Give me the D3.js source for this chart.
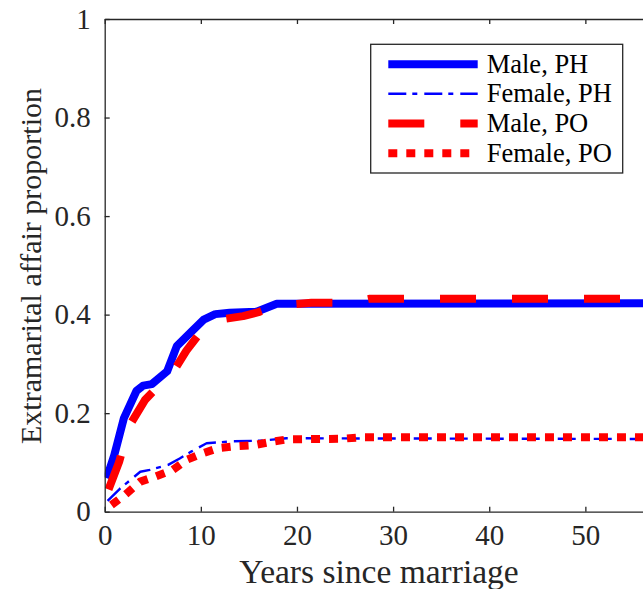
<!DOCTYPE html>
<html>
<head>
<meta charset="utf-8">
<script src="https://cdn.jsdelivr.net/npm/d3@7"></script>
<style>
  body { margin: 0; background: #fff; }
  svg text { font-family: "Liberation Serif", "Times New Roman", serif; }
</style>
</head>
<body>
<div id="chart"></div>
<script>
// years since marriage / proportion
var malePH_t = [0.2, 1, 2, 3.3, 4, 4.9, 6.5, 7.5, 9, 10.3, 11.5, 13, 15.8, 17.9, 60];
var malePH_v = [0.068, 0.115, 0.19, 0.245, 0.256, 0.259, 0.285, 0.336, 0.365, 0.39, 0.401, 0.404, 0.406, 0.422, 0.423];

var femalePH_t = [0.3, 1.6, 3.7, 4.7, 6.6, 7.8, 9, 10.6, 13.4, 16.2, 18.9, 60];
var femalePH_v = [0.022, 0.047, 0.081, 0.085, 0.095, 0.108, 0.122, 0.139, 0.143, 0.144, 0.149, 0.1475];

var malePO_t = [0.4, 1.5, 2.5, 4.2, 5, 6.5, 7, 8.5, 10, 11, 12, 14.4, 16, 18, 21.5, 25.5, 27.5, 60];
var malePO_v = [0.045, 0.101, 0.172, 0.227, 0.243, 0.266, 0.28, 0.327, 0.365, 0.384, 0.39, 0.397, 0.405, 0.419, 0.424, 0.424, 0.432, 0.432];

var femalePO_t = [0.7, 2.1, 3.7, 5.2, 7.1, 8.5, 10.1, 11.8, 13.7, 15.5, 17.4, 19.1, 24.7, 26.6, 60];
var femalePO_v = [0.0136, 0.034, 0.061, 0.071, 0.085, 0.105, 0.118, 0.129, 0.133, 0.135, 0.142, 0.147, 0.148, 0.151, 0.151];

var seriesNames = ["Male, PH", "Female, PH", "Male, PO", "Female, PO"];
// the 60 tick falls past the right edge of the picture
var xTicks = [0, 10, 20, 30, 40, 50];
var yTicks = [0, 0.2, 0.4, 0.6, 0.8, 1];

var W = 643, H = 589,
    margin = {left: 104.7, top: 19, right: 0, bottom: 77.3},
    plotW = 681.5 - margin.left,
    plotH = 511.7 - margin.top,
    axisColor = "#262626";

var styles = [
  {color: "#0000ff", width: 8, dash: null},
  {color: "#0000ff", width: 2.4, dash: "18,6,5,7"},
  {color: "#ff0000", width: 8, dash: "36,36"},
  {color: "#ff0000", width: 8, dash: "9,9"}
];

function zipSeries(ts, vs) {
  return ts.map(function (t, i) { return {t: t, v: vs[i]}; });
}

var series = [
  zipSeries(malePH_t, malePH_v),
  zipSeries(femalePH_t, femalePH_v),
  zipSeries(malePO_t, malePO_v),
  zipSeries(femalePO_t, femalePO_v)
];

var x = d3.scaleLinear().domain([0, 60]).range([0, plotW]);
var y = d3.scaleLinear().domain([0, 1]).range([plotH, 0]);

var svg = d3.select("#chart").append("svg")
    .attr("width", W)
    .attr("height", H);

svg.append("defs").append("clipPath")
    .attr("id", "plotclip")
  .append("rect")
    .attr("width", plotW)
    .attr("height", plotH);

var focus = svg.append("g")
    .attr("transform", "translate(" + margin.left + "," + margin.top + ")");

// lines
var line = d3.line()
    .x(function (d) { return x(d.t); })
    .y(function (d) { return y(d.v); });

focus.append("g")
    .attr("clip-path", "url(#plotclip)")
  .selectAll("path")
    .data(series)
  .enter().append("path")
    .attr("d", line)
    .attr("fill", "none")
    .attr("stroke", function (d, i) { return styles[i].color; })
    .attr("stroke-width", function (d, i) { return styles[i].width; })
    .attr("stroke-dasharray", function (d, i) { return styles[i].dash; })
    .attr("stroke-linejoin", "round")
    .attr("stroke-linecap", "butt");

// axes, ticks inward like matlab
var xAxis = d3.axisBottom(x).tickValues(xTicks).tickSizeInner(-5).tickSizeOuter(0).tickPadding(13)
    .tickFormat(d3.format("d"));
var xAxisTop = d3.axisTop(x).tickValues(xTicks).tickSizeInner(-5).tickSizeOuter(0).tickFormat("");
var yAxis = d3.axisLeft(y).tickValues(yTicks).tickSizeInner(-5).tickSizeOuter(0).tickPadding(14)
    .tickFormat(function (d) { return d === 0 || d === 1 ? d : d3.format(".1f")(d); });

var gx = focus.append("g")
    .attr("transform", "translate(0," + plotH + ")")
    .call(xAxis);
var gxt = focus.append("g").call(xAxisTop);
var gy = focus.append("g").call(yAxis);

[gx, gxt, gy].forEach(function (g) {
  g.select(".domain").attr("stroke", axisColor).attr("stroke-width", 1.3);
  g.selectAll(".tick line").attr("stroke", axisColor).attr("stroke-width", 1.3);
  g.selectAll("text")
      .attr("fill", axisColor)
      .style("font-size", "29px")
      .style("font-family", "'Liberation Serif', 'Times New Roman', serif");
});
gx.selectAll(".tick text").attr("dy", "0.71em");

// axis labels
svg.append("text")
    .attr("x", 379)
    .attr("y", 583)
    .attr("text-anchor", "middle")
    .attr("fill", axisColor)
    .style("font-size", "33.5px")
    .text("Years since marriage");

svg.append("text")
    .attr("transform", "translate(41,266) rotate(-90)")
    .attr("text-anchor", "middle")
    .attr("fill", axisColor)
    .style("font-size", "30px")
    .text("Extramarital affair proportion");

// legend
var legend = svg.append("g");
legend.append("rect")
    .attr("x", 370.7)
    .attr("y", 44.3)
    .attr("width", 252)
    .attr("height", 128.7)
    .attr("fill", "#fff")
    .attr("stroke", axisColor)
    .attr("stroke-width", 1.3);

var legendY = [64.3, 93.7, 123.5, 153.3];
var item = legend.selectAll(".item")
    .data(seriesNames)
  .enter().append("g")
    .attr("class", "item")
    .attr("transform", function (d, i) { return "translate(0," + legendY[i] + ")"; });

item.append("line")
    .attr("x1", 388.3)
    .attr("x2", 477.7)
    .attr("stroke", function (d, i) { return styles[i].color; })
    .attr("stroke-width", function (d, i) { return styles[i].width; })
    .attr("stroke-dasharray", function (d, i) { return styles[i].dash; });

item.append("text")
    .attr("x", 486.7)
    .attr("y", 8.6)
    .attr("fill", "#000")
    .style("font-size", "26.5px")
    .text(function (d) { return d; });
</script>
</body>
</html>
